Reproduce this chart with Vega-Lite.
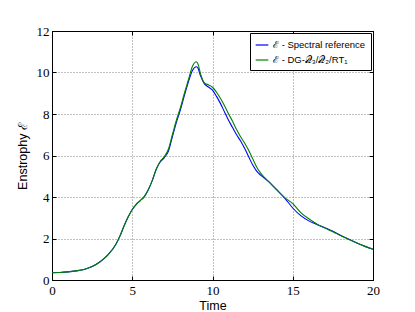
{
  "$schema": "https://vega.github.io/schema/vega-lite/v6.json",
  "width": 321,
  "height": 249,
  "autosize": {"type": "none"},
  "padding": {"left": 52, "top": 31, "right": 42, "bottom": 32},
  "background": "white",
  "config": {
    "view": {"stroke": "black", "strokeWidth": 1},
    "axis": {
      "domainColor": "black",
      "tickColor": "black",
      "labelFont": "Liberation Serif",
      "labelFontSize": 13,
      "labelColor": "black",
      "labelFlush": false,
      "labelOverlap": false,
      "titleFont": "Liberation Sans",
      "titleFontSize": 12.5,
      "titleFontWeight": "normal",
      "titleColor": "black",
      "gridColor": "#666666",
      "gridDash": [1, 2],
      "gridWidth": 0.8
    }
  },
  "data": {
    "values": [
      {"t": 0, "s": "ℰ - Spectral reference", "E": 0.35},
      {"t": 0.5, "s": "ℰ - Spectral reference", "E": 0.36},
      {"t": 1.0, "s": "ℰ - Spectral reference", "E": 0.39},
      {"t": 1.5, "s": "ℰ - Spectral reference", "E": 0.44},
      {"t": 2.0, "s": "ℰ - Spectral reference", "E": 0.51},
      {"t": 2.5, "s": "ℰ - Spectral reference", "E": 0.65},
      {"t": 3.0, "s": "ℰ - Spectral reference", "E": 0.88},
      {"t": 3.5, "s": "ℰ - Spectral reference", "E": 1.22},
      {"t": 4.0, "s": "ℰ - Spectral reference", "E": 1.75},
      {"t": 4.25, "s": "ℰ - Spectral reference", "E": 2.15},
      {"t": 4.5, "s": "ℰ - Spectral reference", "E": 2.63},
      {"t": 4.75, "s": "ℰ - Spectral reference", "E": 3.05},
      {"t": 5.0, "s": "ℰ - Spectral reference", "E": 3.4},
      {"t": 5.25, "s": "ℰ - Spectral reference", "E": 3.65},
      {"t": 5.5, "s": "ℰ - Spectral reference", "E": 3.83},
      {"t": 5.75, "s": "ℰ - Spectral reference", "E": 4.02},
      {"t": 6.0, "s": "ℰ - Spectral reference", "E": 4.35},
      {"t": 6.25, "s": "ℰ - Spectral reference", "E": 4.8},
      {"t": 6.5, "s": "ℰ - Spectral reference", "E": 5.35},
      {"t": 6.75, "s": "ℰ - Spectral reference", "E": 5.7},
      {"t": 7.0, "s": "ℰ - Spectral reference", "E": 5.9},
      {"t": 7.25, "s": "ℰ - Spectral reference", "E": 6.2},
      {"t": 7.5, "s": "ℰ - Spectral reference", "E": 6.9},
      {"t": 7.75, "s": "ℰ - Spectral reference", "E": 7.6},
      {"t": 8.0, "s": "ℰ - Spectral reference", "E": 8.2},
      {"t": 8.25, "s": "ℰ - Spectral reference", "E": 8.9},
      {"t": 8.5, "s": "ℰ - Spectral reference", "E": 9.55},
      {"t": 8.75, "s": "ℰ - Spectral reference", "E": 10.1},
      {"t": 9.0, "s": "ℰ - Spectral reference", "E": 10.28},
      {"t": 9.1, "s": "ℰ - Spectral reference", "E": 10.2},
      {"t": 9.25, "s": "ℰ - Spectral reference", "E": 9.85},
      {"t": 9.5, "s": "ℰ - Spectral reference", "E": 9.45},
      {"t": 9.75, "s": "ℰ - Spectral reference", "E": 9.3},
      {"t": 10.0, "s": "ℰ - Spectral reference", "E": 9.15},
      {"t": 10.25, "s": "ℰ - Spectral reference", "E": 8.85},
      {"t": 10.5, "s": "ℰ - Spectral reference", "E": 8.5},
      {"t": 10.75, "s": "ℰ - Spectral reference", "E": 8.1},
      {"t": 11.0, "s": "ℰ - Spectral reference", "E": 7.7},
      {"t": 11.25, "s": "ℰ - Spectral reference", "E": 7.35},
      {"t": 11.5, "s": "ℰ - Spectral reference", "E": 7.0},
      {"t": 11.75, "s": "ℰ - Spectral reference", "E": 6.7},
      {"t": 12.0, "s": "ℰ - Spectral reference", "E": 6.35},
      {"t": 12.25, "s": "ℰ - Spectral reference", "E": 5.95},
      {"t": 12.5, "s": "ℰ - Spectral reference", "E": 5.55},
      {"t": 12.75, "s": "ℰ - Spectral reference", "E": 5.25},
      {"t": 13.0, "s": "ℰ - Spectral reference", "E": 5.05},
      {"t": 13.5, "s": "ℰ - Spectral reference", "E": 4.74},
      {"t": 14.0, "s": "ℰ - Spectral reference", "E": 4.35},
      {"t": 14.5, "s": "ℰ - Spectral reference", "E": 3.95},
      {"t": 15.0, "s": "ℰ - Spectral reference", "E": 3.47},
      {"t": 15.5, "s": "ℰ - Spectral reference", "E": 3.1},
      {"t": 16.0, "s": "ℰ - Spectral reference", "E": 2.85},
      {"t": 16.5, "s": "ℰ - Spectral reference", "E": 2.68},
      {"t": 17.0, "s": "ℰ - Spectral reference", "E": 2.52},
      {"t": 17.5, "s": "ℰ - Spectral reference", "E": 2.35},
      {"t": 18.0, "s": "ℰ - Spectral reference", "E": 2.15},
      {"t": 18.5, "s": "ℰ - Spectral reference", "E": 1.96},
      {"t": 19.0, "s": "ℰ - Spectral reference", "E": 1.78},
      {"t": 19.5, "s": "ℰ - Spectral reference", "E": 1.62},
      {"t": 20.0, "s": "ℰ - Spectral reference", "E": 1.48},
      {"t": 0, "s": "ℰ - DG-𝒬₃/𝒬₂/RT₁", "E": 0.35},
      {"t": 0.5, "s": "ℰ - DG-𝒬₃/𝒬₂/RT₁", "E": 0.36},
      {"t": 1.0, "s": "ℰ - DG-𝒬₃/𝒬₂/RT₁", "E": 0.39},
      {"t": 1.5, "s": "ℰ - DG-𝒬₃/𝒬₂/RT₁", "E": 0.44},
      {"t": 2.0, "s": "ℰ - DG-𝒬₃/𝒬₂/RT₁", "E": 0.51},
      {"t": 2.5, "s": "ℰ - DG-𝒬₃/𝒬₂/RT₁", "E": 0.65},
      {"t": 3.0, "s": "ℰ - DG-𝒬₃/𝒬₂/RT₁", "E": 0.88},
      {"t": 3.5, "s": "ℰ - DG-𝒬₃/𝒬₂/RT₁", "E": 1.22},
      {"t": 4.0, "s": "ℰ - DG-𝒬₃/𝒬₂/RT₁", "E": 1.75},
      {"t": 4.25, "s": "ℰ - DG-𝒬₃/𝒬₂/RT₁", "E": 2.15},
      {"t": 4.5, "s": "ℰ - DG-𝒬₃/𝒬₂/RT₁", "E": 2.63},
      {"t": 4.75, "s": "ℰ - DG-𝒬₃/𝒬₂/RT₁", "E": 3.05},
      {"t": 5.0, "s": "ℰ - DG-𝒬₃/𝒬₂/RT₁", "E": 3.4},
      {"t": 5.25, "s": "ℰ - DG-𝒬₃/𝒬₂/RT₁", "E": 3.65},
      {"t": 5.5, "s": "ℰ - DG-𝒬₃/𝒬₂/RT₁", "E": 3.83},
      {"t": 5.75, "s": "ℰ - DG-𝒬₃/𝒬₂/RT₁", "E": 4.02},
      {"t": 6.0, "s": "ℰ - DG-𝒬₃/𝒬₂/RT₁", "E": 4.35},
      {"t": 6.25, "s": "ℰ - DG-𝒬₃/𝒬₂/RT₁", "E": 4.8},
      {"t": 6.5, "s": "ℰ - DG-𝒬₃/𝒬₂/RT₁", "E": 5.35},
      {"t": 6.75, "s": "ℰ - DG-𝒬₃/𝒬₂/RT₁", "E": 5.72},
      {"t": 7.0, "s": "ℰ - DG-𝒬₃/𝒬₂/RT₁", "E": 5.95},
      {"t": 7.25, "s": "ℰ - DG-𝒬₃/𝒬₂/RT₁", "E": 6.3},
      {"t": 7.5, "s": "ℰ - DG-𝒬₃/𝒬₂/RT₁", "E": 7.0},
      {"t": 7.75, "s": "ℰ - DG-𝒬₃/𝒬₂/RT₁", "E": 7.7},
      {"t": 8.0, "s": "ℰ - DG-𝒬₃/𝒬₂/RT₁", "E": 8.3},
      {"t": 8.25, "s": "ℰ - DG-𝒬₃/𝒬₂/RT₁", "E": 9.0},
      {"t": 8.5, "s": "ℰ - DG-𝒬₃/𝒬₂/RT₁", "E": 9.65},
      {"t": 8.75, "s": "ℰ - DG-𝒬₃/𝒬₂/RT₁", "E": 10.3},
      {"t": 9.0, "s": "ℰ - DG-𝒬₃/𝒬₂/RT₁", "E": 10.52},
      {"t": 9.1, "s": "ℰ - DG-𝒬₃/𝒬₂/RT₁", "E": 10.4},
      {"t": 9.25, "s": "ℰ - DG-𝒬₃/𝒬₂/RT₁", "E": 9.95},
      {"t": 9.5, "s": "ℰ - DG-𝒬₃/𝒬₂/RT₁", "E": 9.5},
      {"t": 9.75, "s": "ℰ - DG-𝒬₃/𝒬₂/RT₁", "E": 9.4},
      {"t": 10.0, "s": "ℰ - DG-𝒬₃/𝒬₂/RT₁", "E": 9.29},
      {"t": 10.25, "s": "ℰ - DG-𝒬₃/𝒬₂/RT₁", "E": 9.05},
      {"t": 10.5, "s": "ℰ - DG-𝒬₃/𝒬₂/RT₁", "E": 8.75},
      {"t": 10.75, "s": "ℰ - DG-𝒬₃/𝒬₂/RT₁", "E": 8.4},
      {"t": 11.0, "s": "ℰ - DG-𝒬₃/𝒬₂/RT₁", "E": 8.0},
      {"t": 11.25, "s": "ℰ - DG-𝒬₃/𝒬₂/RT₁", "E": 7.65},
      {"t": 11.5, "s": "ℰ - DG-𝒬₃/𝒬₂/RT₁", "E": 7.25},
      {"t": 11.75, "s": "ℰ - DG-𝒬₃/𝒬₂/RT₁", "E": 6.9},
      {"t": 12.0, "s": "ℰ - DG-𝒬₃/𝒬₂/RT₁", "E": 6.6},
      {"t": 12.25, "s": "ℰ - DG-𝒬₃/𝒬₂/RT₁", "E": 6.25},
      {"t": 12.5, "s": "ℰ - DG-𝒬₃/𝒬₂/RT₁", "E": 5.85},
      {"t": 12.75, "s": "ℰ - DG-𝒬₃/𝒬₂/RT₁", "E": 5.45},
      {"t": 13.0, "s": "ℰ - DG-𝒬₃/𝒬₂/RT₁", "E": 5.15},
      {"t": 13.5, "s": "ℰ - DG-𝒬₃/𝒬₂/RT₁", "E": 4.74},
      {"t": 14.0, "s": "ℰ - DG-𝒬₃/𝒬₂/RT₁", "E": 4.35},
      {"t": 14.5, "s": "ℰ - DG-𝒬₃/𝒬₂/RT₁", "E": 3.97},
      {"t": 15.0, "s": "ℰ - DG-𝒬₃/𝒬₂/RT₁", "E": 3.68},
      {"t": 15.5, "s": "ℰ - DG-𝒬₃/𝒬₂/RT₁", "E": 3.25},
      {"t": 16.0, "s": "ℰ - DG-𝒬₃/𝒬₂/RT₁", "E": 2.95},
      {"t": 16.5, "s": "ℰ - DG-𝒬₃/𝒬₂/RT₁", "E": 2.7},
      {"t": 17.0, "s": "ℰ - DG-𝒬₃/𝒬₂/RT₁", "E": 2.5},
      {"t": 17.5, "s": "ℰ - DG-𝒬₃/𝒬₂/RT₁", "E": 2.33},
      {"t": 18.0, "s": "ℰ - DG-𝒬₃/𝒬₂/RT₁", "E": 2.13},
      {"t": 18.5, "s": "ℰ - DG-𝒬₃/𝒬₂/RT₁", "E": 1.95},
      {"t": 19.0, "s": "ℰ - DG-𝒬₃/𝒬₂/RT₁", "E": 1.78},
      {"t": 19.5, "s": "ℰ - DG-𝒬₃/𝒬₂/RT₁", "E": 1.62},
      {"t": 20.0, "s": "ℰ - DG-𝒬₃/𝒬₂/RT₁", "E": 1.48}
    ]
  },
  "layer": [
    {
      "mark": {"type": "line", "strokeWidth": 1.1, "interpolate": "monotone"},
      "encoding": {
        "x": {
          "field": "t", "type": "quantitative",
          "scale": {"domain": [0, 20], "nice": false},
          "axis": {"title": "Time", "values": [0, 5, 10, 15, 20], "tickSize": -4, "labelPadding": 8, "titlePadding": 2, "grid": true}
        },
        "y": {
          "field": "E", "type": "quantitative",
          "scale": {"domain": [0, 12], "nice": false},
          "axis": {"title": "Enstrophy ℰ", "values": [0, 2, 4, 6, 8, 10, 12], "tickSize": -4, "labelPadding": 7, "titlePadding": 7, "grid": true}
        },
        "color": {
          "field": "s", "type": "nominal",
          "scale": {"domain": ["ℰ - Spectral reference", "ℰ - DG-𝒬₃/𝒬₂/RT₁"], "range": ["#0000ff", "#008000"]},
          "legend": {
            "title": null,
            "orient": "top-right",
            "offset": 2,
            "symbolType": "stroke",
            "symbolSize": 160,
            "symbolStrokeWidth": 1.2,
            "labelFont": "Liberation Sans",
            "labelFontSize": 9.5,
            "labelColor": "black",
            "strokeColor": "black",
            "fillColor": "white",
            "padding": 5,
            "rowPadding": 3
          }
        }
      }
    },
    {
      "mark": {"type": "line", "opacity": 0},
      "encoding": {
        "x": {"field": "t", "type": "quantitative", "axis": {"orient": "top", "title": null, "labels": false, "grid": false, "values": [0, 5, 10, 15, 20], "tickSize": -4}},
        "y": {"field": "E", "type": "quantitative", "axis": {"orient": "right", "title": null, "labels": false, "grid": false, "values": [0, 2, 4, 6, 8, 10, 12], "tickSize": -4}}
      }
    }
  ],
  "resolve": {"axis": {"x": "independent", "y": "independent"}}
}
